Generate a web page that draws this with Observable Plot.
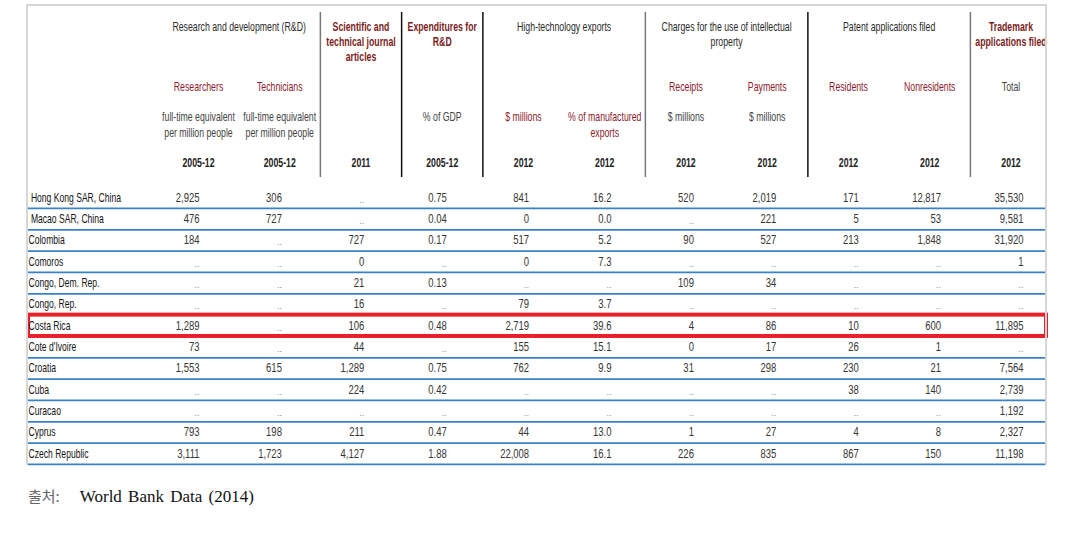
<!DOCTYPE html>
<html>
<head>
<meta charset="utf-8">
<script src="https://cdn.jsdelivr.net/npm/d3@7"></script>
<script src="https://cdn.jsdelivr.net/npm/@observablehq/plot@0.6"></script>
<style>
  html, body { margin: 0; padding: 0; background: #fff; }
  #wrap { position: relative; width: 1086px; height: 537px; overflow: hidden; }
  #border { position: absolute; left: 26px; top: 4px; width: 1017px; height: 459px;
            border: 2px solid #d6d6d6; border-bottom: none; pointer-events: none; }
  #wrap svg { display: block; }
  #caption { margin-top: 16px; padding-left: 28px; line-height: 20px; font-size: 17px;
             font-family: "Liberation Serif", "Noto Sans CJK KR", serif; color: #111; word-spacing: 2px; }
  #caption .src { color: #666; font-family: "Noto Sans CJK KR", serif; font-size: 15px; margin-right: 20px; }
</style>
</head>
<body>
<div id="wrap"><div id="border"></div></div>
<script>
// ---------- data ----------
const countries = ["\u00a0Hong Kong SAR, China", "\u00a0Macao SAR, China", "Colombia", "Comoros", "Congo, Dem. Rep.",
  "Congo, Rep.", "Costa Rica", "Cote d'Ivoire", "Croatia", "Cuba", "Curacao", "Cyprus", "Czech Republic"];
const highlightCountry = "Costa Rica";

const researchers        = [2925, 476, 184, null, null, null, 1289, 73, 1553, null, null, 793, 3111];
const technicians        = [306, 727, null, null, null, null, null, null, 615, null, null, 198, 1723];
const journalArticles    = [null, null, 727, 0, 21, 16, 106, 44, 1289, 224, null, 211, 4127];
const rdExpenditure      = [0.75, 0.04, 0.17, null, 0.13, null, 0.48, null, 0.75, 0.42, null, 0.47, 1.88];
const hiTechExports      = [841, 0, 517, 0, null, 79, 2719, 155, 762, null, null, 44, 22008];
const hiTechShare        = [16.2, 0.0, 5.2, 7.3, null, 3.7, 39.6, 15.1, 9.9, null, null, 13.0, 16.1];
const ipReceipts         = [520, null, 90, null, 109, null, 4, 0, 31, null, null, 1, 226];
const ipPayments         = [2019, 221, 527, null, 34, null, 86, 17, 298, null, null, 27, 835];
const patentResidents    = [171, 5, 213, null, null, null, 10, 26, 230, 38, null, 4, 867];
const patentNonresidents = [12817, 53, 1848, null, null, null, 600, 1, 21, 140, null, 8, 150];
const trademarks         = [35530, 9581, 31920, 1, null, null, 11895, null, 7564, 2739, 1192, 2327, 11198];

const groupTitles = ["Research and development (R&D)", "Scientific and\ntechnical journal\narticles",
  "Expenditures for\nR&D", "High-technology exports", "Charges for the use of intellectual\nproperty",
  "Patent applications filed", "Trademark\napplications filed"];
const groupFirstCol = [0, 2, 3, 4, 6, 8, 10];
const groupLastCol  = [1, 2, 3, 5, 7, 9, 10];

const subHeaders = ["Researchers", "Technicians", "", "", "", "", "Receipts", "Payments", "Residents", "Nonresidents", "Total"];
const unitLabels = ["full-time equivalent\nper million people", "full-time equivalent\nper million people", "",
  "% of GDP", "$ millions", "% of manufactured\nexports", "$ millions", "$ millions", "", "", ""];
const periods = ["2005-12", "2005-12", "2011", "2005-12", "2012", "2012", "2012", "2012", "2012", "2012", "2012"];

const captionSource = "출처:";
const captionText = "World Bank Data (2014)";

// ---------- styling ----------
const FONT = '"Liberation Sans Narrow", "Arial Narrow", "Liberation Sans", sans-serif';
const MAROON = "#8b1a2e";
const DARK = "#2b2b2b";
const GRAY = "#444";

const columns = [researchers, technicians, journalArticles, rdExpenditure, hiTechExports, hiTechShare,
  ipReceipts, ipPayments, patentResidents, patentNonresidents, trademarks];
const formats = columns.map((_, c) => c === 3 ? d3.format(".2f") : c === 5 ? d3.format(".1f") : d3.format(",d"));
const cells = [];
columns.forEach((vals, c) => vals.forEach((v, r) => cells.push({c, r, v, label: v == null ? ".." : formats[c](v)})));

// header lines
const redGroups = new Set([1, 2, 6]);
const headerLines = [];
groupTitles.forEach((t, g) => t.split("\n").forEach((line, k) =>
  headerLines.push({x: (groupFirstCol[g] + groupLastCol[g]) / 2, slot: k, text: line, kind: redGroups.has(g) ? "groupRed" : "group"})));
subHeaders.forEach((t, c) => { if (t) headerLines.push({x: c, slot: 4, text: t, kind: t === "Total" ? "gray" : "red"}); });
unitLabels.forEach((t, c) => t && t.split("\n").forEach((line, k) =>
  headerLines.push({x: c, slot: 6 + k, text: line, kind: (c === 4 || c === 5) ? "red" : "gray"})));
periods.forEach((t, c) => headerLines.push({x: c, slot: 9, text: t, kind: "year"}));

const dividers = groupLastCol.slice(0, -1).map((c, g) => ({x: c + 0.5, dark: [1, 2, 4].includes(g)}));

const header = Plot.plot({
  width: 1086, height: 180,
  marginTop: 12, marginBottom: 3, marginLeft: 28, marginRight: 40,
  x: {type: "linear", domain: [0, 10], range: [198, 1010.5], axis: null},
  y: {type: "linear", domain: [0, 9], range: [26, 162.4], axis: null},
  style: {fontFamily: FONT, fontSize: "12.5px", background: "transparent"},
  marks: [
    Plot.ruleX(dividers.filter(d => d.dark), {x: "x", stroke: "#111", strokeWidth: 1.5}),
    Plot.ruleX(dividers.filter(d => !d.dark), {x: "x", stroke: "#777", strokeWidth: 1.5}),
    Plot.text(headerLines.filter(d => d.kind === "group"), {x: "x", y: "slot", text: "text", fill: DARK}),
    Plot.text(headerLines.filter(d => d.kind === "groupRed"), {x: "x", y: "slot", text: "text", fill: "#7a1c22", fontWeight: "bold"}),
    Plot.text(headerLines.filter(d => d.kind === "red"), {x: "x", y: "slot", text: "text", fill: MAROON}),
    Plot.text(headerLines.filter(d => d.kind === "gray"), {x: "x", y: "slot", text: "text", fill: GRAY}),
    Plot.text(headerLines.filter(d => d.kind === "year"), {x: "x", y: "slot", text: "text", fill: "#222", fontWeight: "bold"})
  ]
});

const hi = countries.indexOf(highlightCountry);
const body = Plot.plot({
  width: 1086, height: 290,
  marginTop: 0, marginBottom: 0, marginLeft: 28, marginRight: 40,
  x: {type: "linear", domain: [0, 10], range: [199, 1023], axis: null},
  y: {type: "linear", domain: [0, 12], range: [17.3, 273.3], axis: null},
  style: {fontFamily: FONT, fontSize: "12px", background: "transparent"},
  marks: [
    Plot.ruleY(d3.range(countries.length), {y: i => i + 0.5, stroke: "#3a82c6", strokeWidth: 1.7}),
    Plot.rect([hi], {y1: i => i - 0.5, y2: i => i + 0.5, stroke: "#e8202a", strokeWidth: 4, fill: "none"}),
    Plot.text(countries, {y: (d, i) => i, frameAnchor: "left", text: d => d, textAnchor: "start", fill: "#151515"}),
    Plot.text(cells.filter(d => d.v != null), {x: "c", y: "r", text: "label", textAnchor: "end", fill: "#353535"}),
    Plot.text(cells.filter(d => d.v == null), {x: "c", y: "r", text: "label", textAnchor: "end", fill: "#888", fontSize: 9, dy: 2})
  ]
});

const wrap = document.getElementById("wrap");
wrap.appendChild(header);
wrap.appendChild(body);
const cap = document.createElement("div");
cap.id = "caption";
const src = document.createElement("span");
src.className = "src";
src.textContent = captionSource;
cap.appendChild(src);
cap.appendChild(document.createTextNode(captionText));
wrap.appendChild(cap);

// emulate the narrow typeface of the original by scaling each label horizontally about its anchor
function condense(svg, ratioFor) {
  svg.querySelectorAll("text").forEach(t => {
    const s = t.textContent;
    if (!s || s === "..") return;
    let tr = t.getAttribute("transform") || "";
    const x = +(t.getAttribute("x") || 0), y = +(t.getAttribute("y") || 0);
    if (x || y) {
      tr = `translate(${x},${y}) ` + tr;
      t.removeAttribute("x");
      t.removeAttribute("y");
    }
    t.setAttribute("transform", `${tr} scale(${ratioFor(s)},1)`.trim());
  });
}
condense(header, () => 0.7);
condense(body, s => /^[0-9]/.test(s) ? 0.79 : 0.715);
</script>
</body>
</html>
